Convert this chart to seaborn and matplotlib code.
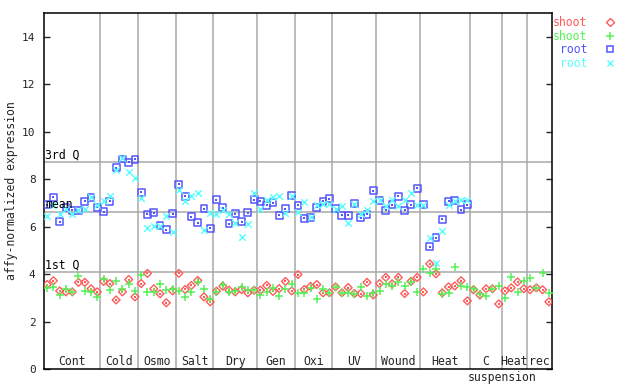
import numpy as np
import pandas as pd
import seaborn as sns
import matplotlib.pyplot as plt
from matplotlib.lines import Line2D

# Sample groups along the x axis (number of samples in each)
groups = ['Cont', 'Cold', 'Osmo', 'Salt', 'Dry', 'Gen', 'Oxi', 'UV', 'Wound', 'Heat', 'C', 'Heat', 'rec']
group_sizes = [9, 6, 6, 6, 7, 6, 6, 7, 7, 8, 5, 4, 4]

# shoot, replicate 1 (red diamonds)
shoot_a = [3.56, 3.72, 3.29, 3.25, 3.25, 3.65, 3.65, 3.38, 3.25,
           3.69, 3.60, 2.91, 3.25, 3.77, 3.04,
           3.60, 4.03, 3.38, 3.17, 2.79, 3.29,
           4.03, 3.35, 3.52, 3.73, 3.04, 2.83,
           3.28, 3.49, 3.32, 3.25, 3.35, 3.21, 3.32,
           3.32, 3.52, 3.27, 3.39, 3.69, 3.29,
           3.98, 3.35, 3.48, 3.56, 3.21, 3.21,
           3.46, 3.21, 3.43, 3.18, 3.18, 3.65, 3.12,
           3.60, 3.86, 3.59, 3.86, 3.18, 3.69, 3.86,
           3.25, 4.43, 4.01, 3.21, 3.46, 3.50, 3.72, 2.87,
           3.34, 3.12, 3.38, 3.38, 2.74,
           3.29, 3.42, 3.67, 3.38,
           3.34, 3.42, 3.34, 2.83]

# shoot, replicate 2 (green plus)
shoot_b = [3.43, 3.46, 3.12, 3.38, 3.25, 3.93, 3.29, 3.25, 3.04,
           3.81, 3.34, 3.72, 3.38, 3.59, 3.29,
           3.98, 3.25, 3.25, 3.59, 3.34, 3.38,
           3.29, 3.04, 3.25, 3.65, 3.39, 2.96,
           3.24, 3.52, 3.25, 3.27, 3.46, 3.32, 3.32,
           3.13, 3.25, 3.42, 3.07, 3.38, 3.60,
           3.21, 3.21, 3.43, 2.96, 3.38, 3.21,
           3.46, 3.21, 3.21, 3.18, 3.46, 3.08, 3.21,
           3.29, 3.59, 3.50, 3.67, 3.50, 3.67, 3.25,
           4.22, 4.05, 4.22, 3.17, 3.21, 4.31, 3.50, 3.46,
           3.38, 3.17, 3.08, 3.38, 3.50,
           3.00, 3.89, 3.25, 3.72,
           3.84, 3.42, 4.05, 3.21]

# root, replicate 1 (blue squares) - no root samples after Heat
root_a = [6.93, 7.23, 6.21, 6.80, 6.68, 6.68, 7.06, 7.23, 6.82,
          6.63, 7.07, 8.49, 8.85, 8.71, 8.83,
          7.44, 6.51, 6.59, 6.04, 5.87, 6.55,
          7.78, 7.27, 6.42, 6.17, 6.76, 5.92,
          7.14, 6.80, 6.13, 6.55, 6.21, 6.59, 7.14,
          7.06, 6.89, 7.01, 6.47, 6.76, 7.31,
          6.89, 6.35, 6.40, 6.82, 7.06, 7.18,
          6.76, 6.47, 6.47, 6.97, 6.38, 6.51, 7.52,
          7.11, 6.68, 6.93, 7.27, 6.68, 6.93, 7.61,
          6.93, 5.16, 5.54, 6.30, 7.06, 7.09, 6.72, 6.93]

# root, replicate 2 (cyan crosses)
root_b = [6.45, 6.93, 6.52, 6.73, 6.51, 6.68, 6.76, 7.23, 6.93,
          7.07, 7.27, 8.40, 8.89, 8.28, 8.04,
          7.20, 5.92, 6.03, 6.03, 6.44, 5.79,
          7.56, 7.06, 7.27, 7.40, 5.87, 6.59,
          6.51, 6.72, 6.55, 6.17, 5.58, 6.09, 7.40,
          6.76, 7.14, 7.23, 7.27, 6.59, 7.31,
          6.63, 7.02, 6.40, 6.89, 6.97, 6.97,
          6.76, 6.85, 6.17, 6.97, 6.51, 6.72, 7.06,
          7.14, 6.85, 7.10, 6.85, 7.14, 7.40, 6.93,
          6.89, 5.54, 4.48, 5.83, 6.93, 7.06, 7.10, 7.14]

# summary lines
q_labels = ['3rd Q', 'mean', '1st Q']
q_values = [8.72, 6.63, 4.10]

red = '#ff5a5a'
green = '#55f055'
blue = '#5555ff'
cyan = '#55ffff'
grey = '#a8a8a8'

n = sum(group_sizes)
df_shoot = pd.DataFrame({'sample': np.arange(n), 'a': shoot_a, 'b': shoot_b})
df_root = pd.DataFrame({'sample': np.arange(len(root_a)), 'a': root_a, 'b': root_b})

sns.set_style('white')
plt.rcParams['font.family'] = ['DejaVu Sans Mono']
plt.rcParams['font.size'] = 8

fig = plt.figure(figsize=(6.4, 3.84), dpi=100)
ax = fig.add_axes([44 / 640, 15 / 384, 508 / 640, 356 / 384])

# group separators and summary lines
bounds = np.cumsum(group_sizes)[:-1] - 0.5
for b in bounds:
    ax.axvline(b, color=grey, lw=1.1, zorder=1)
for lab, v in zip(q_labels, q_values):
    ax.axhline(v, color=grey, lw=1.1, zorder=1)
    ax.text(0.002, v + 0.02, lab, transform=ax.get_yaxis_transform(), ha='left', va='bottom',
            fontsize=8.3, color='black', zorder=5)

# points
sns.scatterplot(data=df_shoot, x='sample', y='a', marker='D', s=16, facecolor='none',
                edgecolor=red, linewidth=1.0, ax=ax, zorder=3)
sns.scatterplot(data=df_shoot, x='sample', y='a', marker='s', s=1.2, color=red,
                linewidth=0, ax=ax, zorder=3)
sns.scatterplot(data=df_shoot, x='sample', y='b', marker='+', s=40, color=green,
                linewidth=1.1, ax=ax, zorder=3)
sns.scatterplot(data=df_root, x='sample', y='a', marker='s', s=24, facecolor='none',
                edgecolor=blue, linewidth=1.1, ax=ax, zorder=3)
sns.scatterplot(data=df_root, x='sample', y='a', marker='s', s=1.2, color=blue,
                linewidth=0, ax=ax, zorder=3)
sns.scatterplot(data=df_root, x='sample', y='b', marker='x', s=22, color=cyan,
                linewidth=1.0, ax=ax, zorder=3)

ax.set_xlim(-0.5, n - 0.5)
ax.set_ylim(0, 15)
ax.set_xlabel('')
ax.set_ylabel('affy-normalized expression', fontsize=8.3)
ax.yaxis.set_label_coords(-0.052, 0.5)
ax.set_xticks([])
ax.set_yticks(np.arange(0, 15, 2))
ax.tick_params(axis='y', direction='in', length=4.5, width=1, pad=6, labelsize=8,
               left=True, right=True)
for sp in ax.spines.values():
    sp.set_visible(True)
    sp.set_color('black')
    sp.set_linewidth(1.1)

# group names along the bottom
starts = np.concatenate([[0], np.cumsum(group_sizes)[:-1]])
centers = starts + (np.array(group_sizes) - 1) / 2
for name, c in zip(groups, centers):
    ax.text(c, 0.004, name, transform=ax.get_xaxis_transform(), ha='center', va='bottom',
            fontsize=8.3)
ax.text(bounds[-2], -0.005, 'suspension', transform=ax.get_xaxis_transform(), ha='center',
        va='top', fontsize=8.3)

handles = [
    Line2D([], [], ls='none', marker='D', ms=4, mfc='none', mec=red, mew=1),
    Line2D([], [], ls='none', marker='+', ms=6, mec=green, mew=1.1),
    Line2D([], [], ls='none', marker='s', ms=5, mfc='none', mec=blue, mew=1.1),
    Line2D([], [], ls='none', marker='x', ms=4.5, mec=cyan, mew=1),
]
fig.legend(handles, ['shoot', 'shoot', 'root', 'root'], loc='upper right',
           bbox_to_anchor=(616 / 640, 1 - 16 / 384), frameon=False, markerfirst=False,
           labelcolor=[red, green, blue, cyan], fontsize=8.3, handlelength=1.0,
           handletextpad=1.5, labelspacing=0.05, borderpad=0, borderaxespad=0)

fig.savefig('out.png', dpi=100)
